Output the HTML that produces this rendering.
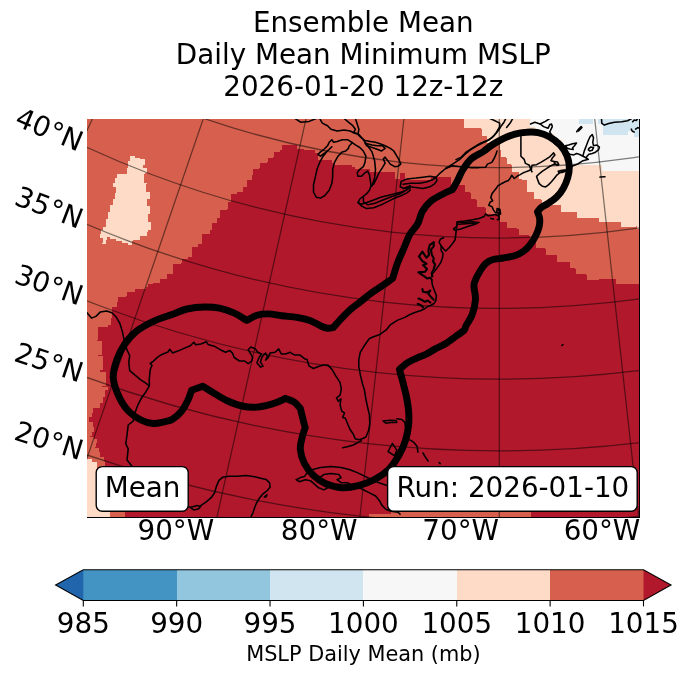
<!DOCTYPE html>
<html lang="en"><head><meta charset="utf-8"><title>Ensemble Mean Daily Mean Minimum MSLP</title>
<style>html,body{margin:0;padding:0;background:#fff}svg{display:block;will-change:transform}text{font-family:"DejaVu Sans", "Liberation Sans", sans-serif;fill:#000}</style>
</head><body>
<svg width="688" height="674" viewBox="0 0 688 674">
<rect width="688" height="674" fill="#fff"/>
<g font-size="27.78" text-anchor="middle">
<text x="363.3" y="32.2">Ensemble Mean</text>
<text x="363.3" y="64.2">Daily Mean Minimum MSLP</text>
<text x="363.3" y="96.4">2026-01-20 12z-12z</text>
</g>
<defs><clipPath id="ax"><rect x="87.0" y="119.0" width="552.5" height="398.5"/></clipPath></defs>
<g clip-path="url(#ax)">
<rect x="87.0" y="119.0" width="552.5" height="398.5" fill="#b2182b"/>
<path d="M124.5 518.0 L124.5 512.0 L112.0 512.0 L112.0 505.0 L106.0 505.0 L106.0 480.0 L104.6 480.0 L104.6 461.2 L104.0 461.2 L104.0 456.5 L99.8 456.5 L99.8 455.9 L100.4 455.9 L100.4 451.7 L99.2 451.7 L99.2 447.6 L94.5 447.6 L94.5 447.0 L96.3 447.0 L96.3 443.4 L96.9 443.4 L96.9 438.7 L93.9 438.7 L93.9 436.9 L90.3 436.9 L90.3 436.3 L91.5 436.3 L91.5 431.5 L93.9 431.5 L93.9 426.8 L93.3 426.8 L93.3 422.0 L88.6 422.0 L88.6 421.5 L88.6 416.7 L92.1 416.7 L92.1 412.6 L92.7 412.6 L92.7 408.4 L99.2 408.4 L99.8 408.4 L99.8 403.1 L102.8 403.1 L102.8 397.1 L104.6 397.1 L104.6 390.0 L108.2 390.0 L108.2 387.0 L102.0 387.0 L102.0 385.8 L105.8 385.8 L105.8 372.0 L99.5 372.0 L99.5 369.5 L103.2 369.5 L103.2 355.8 L98.2 355.8 L98.2 354.5 L102.0 354.5 L102.0 340.8 L97.0 340.8 L97.0 339.5 L98.2 339.5 L98.2 327.0 L108.2 327.0 L108.2 324.5 L110.8 324.5 L110.8 318.2 L112.0 318.2 L112.0 307.0 L117.0 307.0 L117.0 302.0 L118.2 302.0 L118.2 296.5 L125.8 296.5 L125.8 295.8 L127.0 295.8 L127.0 292.0 L134.5 292.0 L134.5 289.0 L145.8 289.0 L145.8 287.0 L148.2 287.0 L148.2 284.0 L153.2 284.0 L153.2 282.8 L159.5 282.8 L159.5 279.0 L167.0 279.0 L167.0 274.0 L173.2 274.0 L173.2 264.0 L180.8 264.0 L180.8 262.8 L182.0 262.8 L182.0 259.0 L188.2 259.0 L188.2 256.5 L192.0 256.5 L192.0 246.5 L198.2 246.5 L198.2 244.0 L202.0 244.0 L202.0 234.0 L209.5 234.0 L209.5 230.2 L212.0 230.2 L212.0 222.8 L217.0 222.8 L217.0 217.8 L219.5 217.8 L219.5 210.2 L227.0 210.2 L227.0 209.0 L228.2 209.0 L228.2 201.5 L230.8 201.5 L230.8 194.0 L237.0 194.0 L237.0 191.5 L243.2 191.5 L243.2 186.5 L247.0 186.5 L247.0 180.2 L252.0 180.2 L252.0 175.2 L253.2 175.2 L253.2 169.0 L259.0 169.0 L259.0 167.8 L260.2 167.8 L260.2 162.8 L266.5 162.8 L266.5 161.5 L267.8 161.5 L267.8 157.8 L272.8 157.8 L272.8 156.5 L274.0 156.5 L274.0 151.5 L280.2 151.5 L280.2 150.2 L281.5 150.2 L281.5 145.2 L290.2 145.2 L296.5 145.2 L296.5 149.0 L304.0 149.0 L304.0 150.2 L315.2 150.2 L315.2 152.8 L317.8 152.8 L317.8 160.2 L331.5 160.2 L331.5 162.8 L334.0 162.8 L334.0 165.2 L351.5 165.2 L351.5 166.5 L355.2 166.5 L355.2 169.0 L369.0 169.0 L370.2 169.0 L370.2 171.5 L394.0 171.5 L395.2 171.5 L395.2 179.0 L400.2 179.0 L400.2 172.8 L404.5 172.8 L404.5 179.0 L409.0 179.0 L409.0 180.2 L431.0 180.2 L431.0 177.0 L449.8 177.0 L451.0 177.0 L451.0 185.2 L463.5 185.2 L464.8 185.2 L464.8 191.5 L469.8 191.5 L469.8 192.8 L471.0 192.8 L471.0 199.0 L476.0 199.0 L476.0 200.2 L477.2 200.2 L477.2 206.5 L484.8 206.5 L484.8 207.8 L486.0 207.8 L486.0 214.0 L498.5 214.0 L498.5 215.2 L499.8 215.2 L499.8 221.5 L506.0 221.5 L507.2 221.5 L507.2 227.8 L517.2 227.8 L517.2 229.0 L518.5 229.0 L518.5 235.2 L528.5 235.2 L528.5 236.0 L529.8 236.0 L529.8 241.5 L534.8 241.5 L534.8 242.0 L536.0 242.0 L536.0 247.8 L544.8 247.8 L544.8 249.0 L546.0 249.0 L546.0 255.2 L556.0 255.2 L557.2 255.2 L557.2 261.5 L568.5 261.5 L568.5 262.0 L569.8 262.0 L569.8 267.8 L574.8 267.8 L574.8 268.5 L576.0 268.5 L576.0 274.0 L586.0 274.0 L586.0 274.5 L587.2 274.5 L587.2 280.2 L598.5 280.2 L598.5 279.0 L612.2 279.0 L612.2 278.5 L616.0 278.5 L616.0 284.0 L641.0 284.0 L641.0 282.8 L641.0 118.0 L86.0 118.0 L86.0 518.0Z" fill="#d6604d" shape-rendering="crispEdges"/>
<path d="M130.0 156.1 L135.0 156.1 L135.0 157.6 L140.0 157.6 L140.0 159.0 L144.7 159.0 L144.7 160.5 L144.7 165.4 L143.1 165.4 L143.1 167.9 L147.1 167.9 L147.1 169.5 L147.1 172.8 L144.7 172.8 L144.7 173.6 L143.9 173.6 L143.9 182.6 L147.1 182.6 L147.1 184.2 L146.3 184.2 L146.3 191.5 L149.6 191.5 L149.6 193.2 L149.6 198.9 L147.1 198.9 L147.1 201.3 L147.1 206.2 L150.4 206.2 L150.4 207.9 L150.4 213.6 L148.0 213.6 L148.0 216.8 L148.0 221.7 L151.2 221.7 L151.2 222.6 L151.2 229.9 L148.0 229.9 L148.0 231.5 L147.1 231.5 L147.1 235.6 L140.6 235.6 L140.6 236.4 L139.8 236.4 L139.8 239.7 L133.3 239.7 L133.3 240.5 L131.6 240.5 L131.6 244.6 L129.2 244.6 L129.2 245.4 L128.4 245.4 L128.4 243.0 L121.8 243.0 L121.8 240.5 L116.1 240.5 L116.1 238.9 L109.6 238.9 L109.6 237.2 L107.1 237.2 L107.1 239.7 L106.3 239.7 L106.3 243.8 L102.2 243.8 L102.2 243.0 L103.1 243.0 L103.1 238.1 L99.8 238.1 L99.8 234.0 L100.6 234.0 L100.6 229.9 L103.1 229.9 L103.1 226.6 L105.5 226.6 L105.5 218.5 L108.0 218.5 L108.0 211.9 L110.4 211.9 L110.4 205.4 L112.9 205.4 L112.9 198.9 L115.3 198.9 L115.3 193.2 L116.1 193.2 L116.1 187.4 L112.9 187.4 L112.9 185.8 L112.9 183.4 L115.3 183.4 L115.3 177.7 L116.9 177.7 L116.9 173.6 L125.1 173.6 L126.7 173.6 L126.7 167.9 L128.4 167.9 L128.4 161.3 L130.0 161.3 L130.0 156.1Z" fill="#fddbc7" shape-rendering="crispEdges"/>
<path d="M462.2 118.0 L463.5 118.0 L463.5 127.8 L481.0 127.8 L481.0 128.5 L482.2 128.5 L482.2 136.0 L486.5 136.0 L486.5 136.5 L487.2 136.5 L487.2 142.8 L499.8 142.8 L499.8 150.2 L501.0 150.2 L501.0 156.5 L506.0 156.5 L506.0 157.8 L507.2 157.8 L507.2 164.0 L511.0 164.0 L511.0 165.2 L512.2 165.2 L512.2 171.5 L517.2 171.5 L517.2 172.0 L518.5 172.0 L518.5 179.0 L522.2 179.0 L522.2 179.5 L527.2 179.5 L527.2 185.2 L527.2 191.5 L532.2 191.5 L532.2 192.0 L533.5 192.0 L533.5 199.0 L541.0 199.0 L541.0 199.5 L542.2 199.5 L542.2 205.2 L559.8 205.2 L561.0 205.2 L561.0 211.5 L576.0 211.5 L576.0 212.0 L577.2 212.0 L577.2 217.8 L597.2 217.8 L598.5 217.8 L598.5 222.0 L619.8 222.0 L619.8 221.5 L621.0 221.5 L621.0 226.5 L635.5 226.5 L635.5 226.0 L636.5 226.0 L636.5 229.0 L641.0 229.0 L641.0 118.0Z" fill="#fddbc7" shape-rendering="crispEdges"/>
<path d="M530.0 118.0 L530.0 126.5 L535.0 126.5 L535.0 131.0 L541.0 131.0 L541.0 133.5 L553.5 133.5 L553.5 140.2 L562.2 140.2 L562.2 149.0 L568.0 149.0 L568.0 160.2 L570.0 160.2 L570.0 165.2 L600.5 165.2 L601.5 165.2 L601.5 170.5 L641.0 170.5 L641.0 169.0 L641.0 118.0Z" fill="#f7f7f7" shape-rendering="crispEdges"/>
<path d="M578.5 118.0 L578.5 124.0 L593.0 124.0 L593.0 118.0Z" fill="#d1e5f0" shape-rendering="crispEdges"/>
<path d="M598.4 118.0 L598.4 124.0 L602.5 124.0 L602.5 134.9 L627.7 134.9 L627.7 130.5 L634.0 130.5 L634.0 137.0 L641.0 137.0 L641.0 118.0Z" fill="#d1e5f0" shape-rendering="crispEdges"/>
<path d="M86.0 458.5 L92.0 458.5 L92.0 462.0 L97.0 462.0 L97.0 472.0 L100.0 472.0 L100.0 480.0 L105.0 480.0 L105.0 495.0 L109.5 495.0 L109.5 518.0 L86.0 518.0Z" fill="#fddbc7" shape-rendering="crispEdges"/>
<path d="M369.0 514.4 L391.4 514.4 L391.4 512.3 L531.0 512.3 L531.0 518.0 L369.0 518.0Z" fill="#d6604d" shape-rendering="crispEdges"/>
<g fill="none" stroke="#000" stroke-width="1.55" stroke-linejoin="round" stroke-linecap="round">
<path d="M87.0 312.8 L91.5 318.1 L95.9 316.4 L100.4 311.9 L106.6 311.0 L111.9 312.8 L116.4 317.3 L119.9 323.5 L122.6 332.4 L124.4 341.3 L127.1 350.2 L129.7 355.5 L128.8 362.7 L129.7 370.7 L135.1 375.1 L140.4 379.6 L145.8 383.1 L149.3 385.8"/>
<path d="M149.3 385.8 L145.8 392.0 L141.3 398.3 L137.7 405.4 L134.2 415.0 L133.2 421.2 L128.2 425.0 L127.0 435.0 L125.8 443.8 L128.2 448.8 L127.0 460.0 L132.0 466.2 L140.0 475.0 L150.0 483.0 L160.0 490.0 L170.0 497.0 L180.0 503.0 L187.6 506.5 L191.1 507.3 L193.7 506.5 L197.2 505.6 L200.7 506.5 L198.1 509.1 L193.7 509.9 L191.1 508.2"/>
<path d="M200.7 505.6 L205.9 502.1 L211.2 497.7 L214.7 492.5 L216.4 486.4 L219.0 480.3 L222.5 477.3 L228.6 476.3 L237.3 476.3 L246.0 475.6 L254.8 476.8 L261.7 478.5 L266.1 479.4 L269.6 482.9 L270.1 487.3 L267.0 490.8 L262.6 494.2 L259.1 498.6 L256.5 503.0 L254.8 507.3 L253.0 512.6 L250.4 518.0"/>
<path d="M264.4 496.9 L267.0 494.8 L266.1 496.9 L264.4 496.9"/>
<path d="M149.3 385.8 L149.3 378.7 L150.2 369.8 L152.0 365.3 L150.2 363.5 L153.8 360.9 L156.4 358.2 L160.0 355.5 L163.6 353.8 L168.0 352.0 L169.8 349.3 L172.5 352.9 L177.8 351.1 L184.0 348.4 L190.3 345.7 L193.8 342.2 L195.6 344.8 L200.9 344.0 L206.3 341.8 L208.1 344.4 L214.2 346.2 L220.3 349.7 L225.5 352.3 L229.9 350.5 L232.5 353.1 L234.2 357.5 L239.5 361.0 L244.7 361.0 L248.2 363.6 L251.7 361.0 L252.6 357.5 L250.8 354.0 L248.2 349.7 L250.8 347.0 L255.2 348.8 L257.8 352.3 L261.3 354.0 L258.7 358.4 L256.9 362.7 L260.4 367.1 L263.0 366.2 L260.4 361.9 L262.2 356.6 L265.6 353.1 L267.4 356.6 L265.6 360.1 L268.3 357.5 L270.0 353.1 L275.2 352.3 L278.7 348.8 L281.3 354.0 L285.7 354.0 L290.1 352.3 L294.4 354.9 L299.7 354.9 L304.5 358.7 L307.1 359.6 L308.9 365.8 L313.4 368.5 L317.8 366.7 L323.1 364.9 L327.6 364.9 L332.0 369.4 L335.6 375.6 L340.1 382.7 L341.3 389.0 L340.1 395.2 L336.5 397.9 L338.3 401.4 L340.9 398.8 L340.1 405.0 L341.8 411.2 L344.5 413.0 L342.7 417.4 L345.4 418.3 L347.2 422.8 L349.8 429.0 L353.4 434.4 L355.2 438.8 L358.8 439.7 L362.3 438.8 L365.9 437.0 L368.5 430.8 L369.8 423.7 L369.4 414.8 L367.3 405.9 L365.5 397.0 L364.4 389.8 L362.7 384.5 L360.5 375.6 L358.8 366.7 L358.8 359.6 L360.3 352.2 L364.8 345.0 L369.2 338.8 L372.8 337.0 L379.9 334.4 L386.2 329.9 L390.6 324.6 L397.7 320.1 L404.8 317.4 L409.0 315.0 L413.0 313.2 L417.0 311.8 L421.0 310.5 L425.0 308.5 L427.7 306.5 L431.0 305.2 L433.7 303.8 L435.7 301.1 L436.4 295.8 L434.4 290.5 L432.4 285.1 L431.7 279.8"/>
<path d="M361.4 440.6 L353.4 445.0 L347.2 446.8 L342.7 447.7"/>
<path d="M457.4 221.7 L456.4 229.0 L455.8 234.4 L455.1 239.7 L452.4 243.7 L449.1 247.7 L445.7 251.0 L443.7 249.0 L441.1 245.7 L439.1 242.4 L440.4 239.0 L443.7 237.7"/>
<path d="M441.1 245.7 L441.1 250.4 L443.1 253.7 L442.4 258.4 L440.4 263.1 L437.7 267.1 L435.1 270.4 L432.4 273.8 L431.7 276.4"/>
<path d="M457.4 221.7 L463.3 222.4 L471.2 221.7 L479.0 222.4 L475.1 224.3 L468.5 226.3 L460.7 228.9 L454.8 230.2 L453.5 228.9 L456.8 226.3 L457.4 221.7"/>
<path d="M458.1 224.3 L465.9 223.7 L475.1 223.0"/>
<path d="M457.4 221.7 L464.6 221.1 L472.5 219.8 L479.0 218.4 L484.2 216.5 L485.6 213.9 L488.2 215.8 L492.1 215.2 L495.4 214.5 L498.0 215.8 L499.9 213.9 L499.3 210.6 L497.3 208.6 L496.7 211.3 L498.6 213.2 L495.4 212.6 L493.4 209.9 L492.1 206.7 L488.8 205.4 L490.1 202.1 L492.7 200.8 L490.8 197.5 L492.1 193.6 L494.7 190.3 L496.7 187.7 L498.0 185.7 L501.3 183.8 L505.2 181.8 L508.4 180.5 L510.4 177.9 L511.7 175.3 L514.3 178.5 L517.6 175.9 L520.2 174.6 L523.5 172.7 L526.8 171.4 L528.7 170.7 L531.4 169.3"/>
<path d="M497.3 208.6 L499.9 209.3 L500.6 213.9 L498.6 215.2 L499.3 219.1 L497.3 219.8"/>
<path d="M490.8 218.4 L493.4 219.1"/>
<path d="M520.9 136.5 L520.9 147.0 L520.9 156.2 L524.2 159.4 L525.5 163.4 L529.4 165.3 L530.7 169.2 L532.0 171.9"/>
<path d="M531.4 169.3 L532.0 165.3 L536.6 164.7 L541.2 162.1 L545.7 159.4 L549.7 156.8 L552.3 154.2 L553.6 152.9 L554.9 154.9 L552.3 158.1 L551.0 160.7 L554.2 161.4 L557.5 162.1 L558.8 164.7 L556.9 165.3 L554.2 162.7"/>
<path d="M558.2 171.2 L560.8 170.6 L564.1 169.9 L565.4 171.2 L562.1 172.5 L558.8 172.5 L558.2 171.2"/>
<path d="M558.2 164.7 L554.2 164.3 L550.3 166.0 L546.4 168.6 L542.5 171.2 L539.2 173.8 L536.6 176.4 L537.9 180.4 L539.2 183.6 L542.5 186.3 L545.7 186.9 L548.4 184.9 L551.0 182.3 L554.2 178.4 L556.9 175.1 L560.1 172.5 L564.7 170.6 L572.6 166.0 L577.8 164.0 L583.0 160.7 L587.6 159.4 L585.6 157.5 L583.0 156.2 L579.1 154.2 L576.5 153.5 L573.9 154.9 L569.9 154.2 L567.3 152.9 L563.7 147.5 L561.0 148.4 L557.6 145.8 L554.1 143.2 L555.8 139.7 L552.3 136.2 L549.7 131.8 L550.6 130.1 L552.3 126.6 L551.5 124.0 L549.7 124.8 L548.0 128.3 L543.6 126.6 L540.1 124.0 L534.9 122.2 L530.5 124.0"/>
<path d="M540.1 124.0 L545.4 121.4 L549.7 118.5"/>
<path d="M583.0 155.5 L584.3 150.9 L586.3 145.7 L588.3 140.5 L590.2 136.5 L592.2 134.6 L593.5 137.8 L592.8 142.4 L593.5 145.7 L596.8 145.0 L599.4 147.0 L598.7 149.6 L595.5 152.2 L592.2 153.5 L588.9 154.2 L587.0 156.2 L586.3 158.1 L588.3 159.4"/>
<path d="M588.9 148.3 L590.9 147.0 L593.5 147.7 L592.2 150.3 L589.6 150.9 L588.3 149.6 L588.9 148.3"/>
<path d="M565.4 145.7 L568.6 145.0 L572.6 143.7 L576.5 143.1 L574.5 145.7 L572.6 147.7 L573.2 149.6 L569.9 149.0 L567.3 148.3 L565.4 145.7"/>
<path d="M576.7 131.8 L578.5 129.2 L581.1 126.6 L582.0 127.5 L578.5 131.0"/>
<path d="M600.0 177.1 L605.0 176.8"/>
<path d="M601.5 118.5 L601.8 123.3 L604.4 125.1 L608.7 123.6 L614.5 122.2 L621.8 121.8 L627.6 120.7 L631.6 118.5"/>
<path d="M632.7 121.8 L634.2 120.0 L636.3 120.4 L637.8 118.5"/>
<path d="M631.3 129.1 L632.3 131.3 L634.2 132.0"/>
<path d="M635.6 129.1 L637.8 127.6 L639.6 128.3"/>
<path d="M436.0 177.2 L440.4 172.8 L445.6 168.5 L452.6 164.1 L459.5 159.7 L464.8 154.5 L470.0 150.1 L477.0 145.8 L484.0 142.3 L489.2 139.7 L494.4 135.3 L498.8 130.1 L501.4 125.7 L504.0 122.2 L505.8 118.5"/>
<path d="M456.0 159.7 L461.3 157.1 L466.5 151.9 L473.5 147.5 L480.5 143.2 L487.4 140.5 L491.8 137.9 L496.2 132.7 L499.7 126.6 L499.7 123.1 L494.4 120.5 L490.1 118.5"/>
<path d="M506.6 127.5 L510.2 123.1 L512.7 118.5"/>
<path d="M445.6 168.5 L452.6 165.8 L461.3 166.7 L470.0 167.6 L478.7 167.6 L485.7 167.2 L487.4 164.1 L491.8 162.4 L494.4 158.0 L496.2 153.6 L497.0 151.0"/>
<path d="M401.1 181.5 L407.2 178.9 L415.9 178.1 L422.9 177.2 L429.9 176.3 L436.0 177.2 L436.9 180.7 L434.2 184.2 L429.9 186.8 L422.9 188.5 L415.9 187.6 L409.0 186.8 L403.7 188.5 L400.2 186.8 L401.1 181.5"/>
<path d="M403.0 184.2 L410.7 183.3 L419.4 183.3 L426.4 181.9 L432.5 179.8 L436.0 177.2"/>
<path d="M295.2 118.5 L300.5 122.2 L309.2 121.4 L316.2 118.5"/>
<path d="M319.7 118.5 L322.3 123.1 L327.5 125.7 L331.0 129.2 L337.1 131.0 L344.1 130.1 L350.2 131.0 L353.7 132.7 L355.4 129.2 L352.8 125.7 L348.4 122.2 L344.1 118.5"/>
<path d="M353.7 132.7 L358.0 134.4 L358.9 129.2 L357.2 124.0 L355.4 118.5"/>
<path d="M351.9 142.3 L347.6 139.7 L342.3 139.7 L337.1 141.4 L333.6 142.3 L331.9 139.7 L329.2 142.3 L327.5 145.8 L324.0 149.3 L320.5 151.9 L317.9 154.5 L320.5 156.2 L324.9 152.8 L329.2 149.3 L331.9 146.7 L327.5 151.0 L323.1 156.2 L319.7 162.4 L317.0 169.3 L315.3 177.2 L313.5 185.0 L313.5 192.0 L316.2 197.2 L320.5 198.1 L324.9 195.5 L329.2 190.3 L331.9 183.3 L332.7 176.3 L332.7 169.3 L334.5 162.4 L338.0 156.2 L342.3 151.9 L345.8 151.0 L348.4 148.4 L349.3 145.8 L351.9 143.2"/>
<path d="M351.9 142.3 L355.4 144.9 L359.8 147.5 L363.3 151.0 L365.9 156.2 L365.0 162.4 L363.3 166.7 L359.8 169.3 L357.2 172.8 L358.0 176.3 L361.5 176.3 L365.0 172.8 L367.6 171.1 L369.4 174.6 L370.2 179.8 L371.1 185.9"/>
<path d="M354.5 132.7 L357.2 133.6 L360.6 137.1 L365.0 140.5 L370.2 141.4 L375.5 142.3 L380.7 144.0 L385.1 145.8 L390.3 148.4 L393.8 151.0 L396.4 155.4 L399.0 159.7 L400.8 164.1 L398.1 166.2 L394.7 166.7 L390.3 164.1 L387.7 160.6 L385.1 157.1 L383.3 158.9 L385.1 163.2 L382.4 167.6 L379.0 172.8 L376.3 178.9 L373.7 184.2 L371.1 185.9"/>
<path d="M358.9 134.4 L363.3 139.7 L367.6 145.8 L372.0 151.9 L374.6 160.6 L375.5 169.3 L374.6 178.1 L372.0 185.9"/>
<path d="M365.0 143.2 L372.0 144.9 L377.2 145.8 L382.4 145.8 L385.1 148.4 L381.6 151.0 L377.2 149.3 L372.0 147.5 L366.7 145.8 L365.0 143.2"/>
<path d="M371.1 185.9 L369.4 190.3 L366.7 193.7 L363.3 196.4 L359.8 199.0 L358.0 202.5 L361.5 204.2 L366.7 202.5 L373.7 199.9 L380.7 197.2 L387.7 195.5 L394.7 193.7 L401.6 192.0 L406.0 190.3 L408.6 187.6 L410.0 185.9 L403.7 188.5"/>
<path d="M358.0 202.5 L361.5 206.0 L366.7 208.6 L373.7 207.7 L380.7 205.1 L387.7 201.6 L394.7 198.1 L401.6 195.5 L406.9 192.9 L410.0 190.3 L410.0 185.9"/>
<path d="M363.3 196.4 L363.5 202.0 L368.0 204.8 L375.0 203.2 L383.0 200.0 L392.0 196.5 L400.0 193.8 L408.0 189.0"/>
<path d="M296.3 479.7 L300.4 477.6 L304.4 476.6 L306.5 473.6 L312.6 469.5 L320.7 467.5 L330.9 466.5 L341.1 467.5 L349.2 469.5 L357.3 472.6 L365.5 476.6 L373.6 480.7 L381.8 483.8 L387.9 485.8 L395.0 488.0 L402.0 492.0"/>
<path d="M296.3 479.7 L299.3 481.7 L305.4 479.7 L310.5 480.7 L318.7 487.8 L323.8 489.9 L327.8 487.8 L320.7 483.8 L319.7 477.6 L323.8 474.6 L330.9 473.6 L339.0 474.6 L341.1 477.6 L337.0 479.7 L341.1 482.7 L347.2 482.7 L353.3 485.8 L361.4 488.8 L369.5 492.9 L375.6 496.0 L379.7 501.1 L381.8 505.1 L385.8 509.2 L390.9 511.2 L398.0 512.2 L400.1 514.3"/>
<path d="M383.0 421.0 L385.9 423.2 L391.0 422.4 L396.8 422.4 L396.0 420.6 L390.0 420.2 L383.0 421.0"/>
<path d="M396.8 418.8 L401.9 419.5 L404.8 422.4 L405.9 429.0"/>
<path d="M392.4 443.5 L396.8 450.1 L394.6 455.9 L388.1 451.5 L392.4 443.5"/>
<path d="M409.9 439.9 L413.5 442.1 L417.2 446.4 L417.9 452.2"/>
<path d="M423.0 453.0 L425.1 456.6 L428.1 461.0"/>
<path d="M439.2 462.6 L440.2 463.6"/>
<path d="M561.8 345.5 L563.0 344.5"/>
</g>
<g fill="none" stroke="#000" stroke-width="2.1" stroke-linejoin="round" stroke-linecap="round">
<path d="M422.4 289.1 L423.0 291.8 L427.0 292.5 L430.4 290.5 L428.4 293.8 L431.0 297.1 L433.7 299.8"/>
<path d="M418.4 298.5 L421.7 299.8 L425.0 301.8 L427.7 300.5 L430.4 302.5"/>
<path d="M417.7 303.8 L421.0 305.2 L423.0 307.2"/>
<path d="M433.7 242.4 L429.7 245.0 L428.4 250.4 L429.0 255.1 L426.4 257.7 L422.4 251.7 L419.0 256.4 L422.4 261.1 L426.4 263.7 L423.0 265.1 L427.0 269.1 L425.0 271.8 L418.4 272.4 L423.7 275.8 L427.0 278.4 L430.4 277.8 L431.7 279.8"/>
<path d="M433.7 242.4 L433.7 246.4 L431.0 249.7 L431.7 254.4 L433.7 258.4 L433.1 261.7 L435.1 264.4 L433.7 269.1 L431.7 273.1 L432.4 276.4"/>
</g>
<g fill="none" stroke="#000" stroke-opacity="0.5" stroke-width="1.25">
<path d="M136.3 -153.2 L-286.2 535.6"/>
<path d="M203.5 -116.9 L-140.8 614.1"/>
<path d="M274.2 -88.2 L12.3 676.2"/>
<path d="M347.7 -67.5 L171.3 721.1"/>
<path d="M423.1 -54.9 L334.3 748.2"/>
<path d="M499.3 -50.7 L499.3 757.3"/>
<path d="M575.5 -54.9 L664.3 748.2"/>
<path d="M650.9 -67.5 L827.3 721.1"/>
<path d="M724.4 -88.2 L986.3 676.2"/>
<path d="M-309.5 424.0 A1421.5 1421.5 0 0 0 1033.4 572.4"/>
<path d="M-265.3 360.2 A1343.9 1343.9 0 0 0 1004.2 500.5"/>
<path d="M-222.6 298.5 A1268.9 1268.9 0 0 0 976.0 430.9"/>
<path d="M-181.1 238.4 A1195.8 1195.8 0 0 0 948.6 363.2"/>
<path d="M-140.3 179.5 A1124.1 1124.1 0 0 0 921.6 296.8"/>
<path d="M-100.0 121.3 A1053.4 1053.4 0 0 0 895.1 231.2"/>
<path d="M-60.0 63.4 A983.1 983.1 0 0 0 868.6 166.0"/>
<path d="M-19.9 5.5 A912.6 912.6 0 0 0 842.2 100.7"/>
<path d="M20.6 -53.0 A841.4 841.4 0 0 0 815.4 34.8"/>
<path d="M61.8 -112.7 A768.9 768.9 0 0 0 788.2 -32.4"/>
</g>
<path d="M113.2 377.0 C113.1 371.2 115.1 364.9 117.0 359.5 C118.9 354.1 121.2 349.3 124.5 344.5 C127.8 339.7 132.0 334.7 137.0 330.8 C142.0 326.8 148.7 323.5 154.5 320.8 C160.3 318.0 166.6 316.5 172.0 314.5 C177.4 312.5 181.6 310.2 187.0 309.0 C192.4 307.8 199.1 307.1 204.5 307.0 C209.9 306.9 214.5 307.2 219.5 308.2 C224.5 309.3 229.9 311.2 234.4 313.2 C238.9 315.2 242.6 317.9 246.7 320.3 C250.2 318.6 253.5 316.3 257.1 315.2 C260.7 314.1 264.4 313.8 268.5 313.9 C272.6 314.0 277.0 315.2 281.7 315.8 C286.4 316.4 292.1 316.5 296.8 317.3 C301.5 318.1 305.9 319.0 310.0 320.5 C314.1 322.0 318.4 324.9 321.4 326.2 C324.4 327.5 326.0 328.1 328.0 328.3 C330.0 328.5 331.5 327.8 333.2 327.6 C336.2 324.3 339.6 320.5 342.2 317.7 C344.8 314.9 346.1 313.3 349.0 310.8 C351.9 308.2 355.9 305.3 359.5 302.5 C363.1 299.7 366.5 296.6 370.4 293.7 C374.3 290.8 379.1 287.9 382.8 285.4 C386.5 282.9 389.3 280.8 392.6 278.5 C394.2 273.5 395.6 268.3 397.4 263.4 C399.2 258.5 401.5 253.7 403.6 248.9 C405.7 244.1 407.5 238.6 409.8 234.4 C412.1 230.2 415.5 227.8 417.6 224.0 C419.7 220.2 420.1 215.3 422.3 211.5 C424.5 207.7 427.2 204.2 430.6 201.3 C434.1 198.4 439.4 195.9 443.0 194.0 C446.6 192.1 449.3 191.1 452.4 189.7 C454.1 186.6 455.8 183.8 457.6 180.4 C459.4 177.0 460.7 173.1 463.0 169.5 C465.3 165.9 467.8 161.9 471.2 158.9 C474.6 155.9 480.0 153.8 483.4 151.5 C486.8 149.2 488.3 147.4 491.6 145.3 C494.9 143.2 499.4 140.6 503.3 138.7 C507.2 136.8 511.0 135.2 514.9 134.1 C518.8 133.0 522.6 132.4 526.5 132.2 C530.4 131.9 534.2 131.8 538.1 132.6 C542.0 133.4 546.1 134.9 549.8 137.0 C553.4 139.1 557.1 141.8 560.0 144.9 C562.9 148.0 565.4 152.0 566.9 155.6 C568.4 159.2 569.2 163.0 569.3 166.7 C569.4 170.4 568.7 174.4 567.7 177.9 C566.7 181.4 565.3 184.8 563.5 187.9 C561.7 191.1 559.5 194.2 556.9 196.8 C554.3 199.4 550.6 201.8 548.0 203.5 C545.4 205.2 543.2 205.9 541.5 207.3 C539.8 208.7 538.8 210.3 537.5 211.8 C538.2 214.0 539.3 215.8 539.6 218.3 C539.9 220.8 539.8 223.9 539.1 226.8 C538.5 229.7 537.2 232.7 535.7 235.7 C534.2 238.7 532.2 242.0 530.2 244.6 C528.2 247.2 526.1 249.4 523.5 251.3 C520.9 253.2 518.0 254.7 514.6 255.8 C511.2 256.9 507.1 257.3 503.4 258.0 C499.7 258.7 495.3 258.9 492.3 259.8 C489.3 260.7 487.7 261.7 485.6 263.6 C483.5 265.6 481.6 268.5 479.8 271.5 C477.9 274.5 475.7 278.9 474.8 281.5 C473.8 284.1 473.9 284.0 474.0 287.0 C474.1 290.0 475.8 294.9 475.5 299.5 C475.2 304.1 473.8 310.1 472.2 314.5 C470.7 318.9 467.3 323.2 466.0 325.8 C464.7 328.3 466.0 328.2 464.3 330.0 C462.6 331.8 458.8 334.2 455.6 336.5 C452.5 338.8 448.8 341.7 445.4 343.8 C442.0 345.9 438.3 347.2 435.2 348.9 C432.1 350.6 429.6 352.4 426.5 354.0 C423.4 355.6 419.4 356.9 416.3 358.3 C413.2 359.8 410.4 360.9 407.6 362.7 C404.8 364.5 402.1 367.2 399.4 369.4 C400.2 372.3 401.0 375.1 401.8 378.0 C402.6 380.9 403.2 383.5 404.0 386.7 C404.8 389.9 405.7 392.8 406.5 397.0 C407.3 401.2 408.4 407.2 408.7 412.0 C409.0 416.8 409.1 421.2 408.5 426.0 C407.9 430.8 406.9 436.1 405.3 441.0 C403.7 445.9 401.8 450.4 399.0 455.1 C396.2 459.8 392.9 465.3 388.8 469.4 C384.7 473.5 379.6 476.8 374.5 479.5 C369.4 482.2 363.7 484.2 358.3 485.6 C352.9 487.0 347.4 488.0 342.0 487.7 C336.6 487.4 330.4 485.6 325.7 483.6 C320.9 481.6 317.1 478.9 313.5 475.5 C309.9 472.1 306.5 467.7 304.3 463.3 C302.1 458.9 300.6 453.4 300.3 449.0 C300.0 444.6 301.5 440.4 302.3 436.8 C303.1 433.2 304.2 430.7 305.2 427.6 C304.6 425.2 304.1 423.7 303.3 420.5 C302.5 417.3 301.3 412.4 300.3 408.3 C298.3 406.3 296.7 403.9 294.2 402.2 C291.7 400.5 288.4 399.6 285.5 398.3 C284.1 399.0 283.4 399.6 281.2 400.5 C279.0 401.4 276.5 402.7 272.5 403.8 C268.5 404.9 262.3 406.7 257.2 407.1 C252.1 407.5 247.0 407.1 241.9 406.0 C236.8 404.9 231.4 402.7 226.7 400.5 C222.0 398.3 217.6 395.3 213.6 392.9 C209.6 390.5 206.3 388.4 202.7 386.2 C199.0 387.5 195.3 388.9 191.6 390.2 C190.4 393.5 189.7 396.5 188.0 400.0 C186.3 403.5 184.1 408.0 181.5 411.2 C178.9 414.4 175.2 417.6 172.5 419.3 C169.8 421.0 168.2 420.9 165.0 421.6 C161.8 422.3 157.0 423.8 153.0 423.5 C149.0 423.2 145.2 422.2 141.0 420.0 C136.8 417.8 131.3 414.2 127.5 410.0 C123.7 405.8 120.4 400.0 118.0 394.5 C115.6 389.0 113.4 382.8 113.2 377.0Z" fill="none" stroke="#000" stroke-width="6.94" stroke-linejoin="round"/>
</g>
<g shape-rendering="crispEdges"><rect x="639" y="119" width="1" height="399" fill="#000"/><rect x="87" y="517" width="553" height="1" fill="#000"/></g>
<rect x="96.2" y="466.6" width="92.0" height="44.6" rx="6" ry="6" fill="#fff" stroke="#000" stroke-width="1.4"/>
<text x="104.8" y="497.0" font-size="27.78">Mean</text>
<rect x="387.6" y="466.6" width="249.6" height="44.6" rx="6" ry="6" fill="#fff" stroke="#000" stroke-width="1.4"/>
<text x="396.5" y="497.0" font-size="27.78">Run: 2026-01-10</text>
<g font-size="27.78" text-anchor="end">
<text x="214.2" y="539.9">90°W</text>
<text x="357.5" y="539.9">80°W</text>
<text x="499.0" y="539.9">70°W</text>
<text x="640.3" y="539.9">60°W</text>
</g>
<g font-size="27.78" text-anchor="end">
<text transform="translate(80.8 145.1) rotate(22.60)" x="0" y="7.3">40°N</text>
<text transform="translate(81.0 222.2) rotate(21.02)" x="0" y="7.3">35°N</text>
<text transform="translate(81.3 298.8) rotate(19.64)" x="0" y="7.3">30°N</text>
<text transform="translate(81.5 375.6) rotate(18.43)" x="0" y="7.3">25°N</text>
<text transform="translate(81.8 453.2) rotate(17.35)" x="0" y="7.3">20°N</text>
</g>
<g shape-rendering="crispEdges">
<rect x="83.30" y="569.8" width="93.67" height="30.7" fill="#4393c3"/>
<rect x="176.67" y="569.8" width="93.67" height="30.7" fill="#92c5de"/>
<rect x="270.03" y="569.8" width="93.67" height="30.7" fill="#d1e5f0"/>
<rect x="363.40" y="569.8" width="93.67" height="30.7" fill="#f7f7f7"/>
<rect x="456.77" y="569.8" width="93.67" height="30.7" fill="#fddbc7"/>
<rect x="550.13" y="569.8" width="93.67" height="30.7" fill="#d6604d"/>
</g>
<path d="M83.3 569.8 L55.6 585.1 L83.3 600.5 Z" fill="#2166ac"/>
<path d="M643.5 569.8 L671.0 585.1 L643.5 600.5 Z" fill="#b2182b"/>
<path d="M83.3 569.8 L643.5 569.8 L671.0 585.1 L643.5 600.5 L83.3 600.5 L55.6 585.1 Z" fill="none" stroke="#000" stroke-width="1.1" stroke-linejoin="miter"/>
<g stroke="#000" stroke-width="1.1">
<path d="M83.30 600.5 V606.4"/>
<path d="M176.67 600.5 V606.4"/>
<path d="M270.03 600.5 V606.4"/>
<path d="M363.40 600.5 V606.4"/>
<path d="M456.77 600.5 V606.4"/>
<path d="M550.13 600.5 V606.4"/>
<path d="M643.50 600.5 V606.4"/>
</g>
<g font-size="27.78" text-anchor="middle">
<text x="83.30" y="633.0">985</text>
<text x="176.67" y="633.0">990</text>
<text x="270.03" y="633.0">995</text>
<text x="363.40" y="633.0">1000</text>
<text x="456.77" y="633.0">1005</text>
<text x="550.13" y="633.0">1010</text>
<text x="643.50" y="633.0">1015</text>
</g>
<text x="363.4" y="660.8" font-size="20.83" text-anchor="middle">MSLP Daily Mean (mb)</text>
</svg>
</body></html>
